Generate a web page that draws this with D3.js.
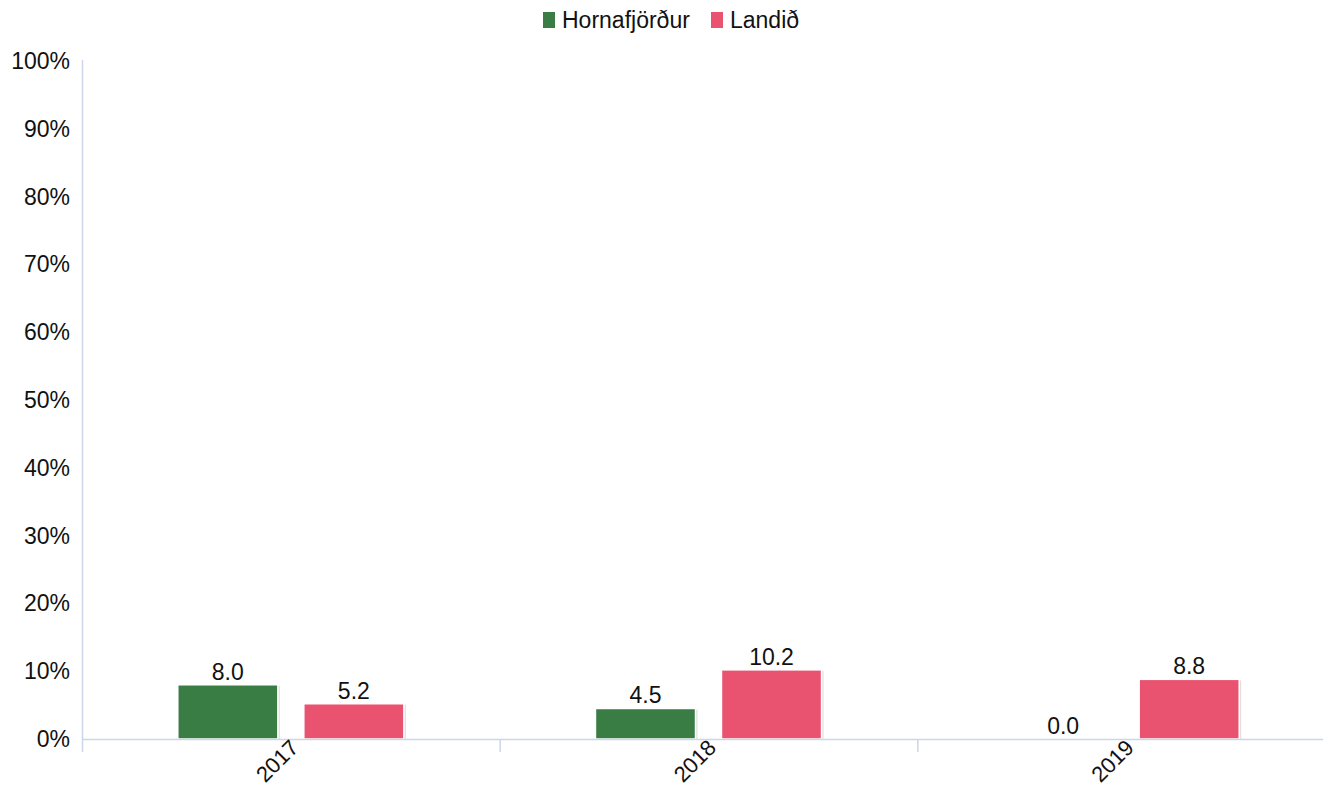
<!DOCTYPE html>
<html><head><meta charset="utf-8">
<script src="https://cdn.jsdelivr.net/npm/d3@7"></script>
<style>body{margin:0;background:#fff;}svg{display:block;font-family:"Liberation Sans",Arial,sans-serif;}</style>
</head><body><svg id="c" width="1323" height="786"></svg>
<script>
const categories = ["2017","2018","2019"];
const seriesNames = ["Hornafjörður","Landið"];
const hornafjordur = [8.0, 4.5, 0.0];
const landid = [5.2, 10.2, 8.8];
const yTicks = [0,10,20,30,40,50,60,70,80,90,100];
const colors = ["#3a7d44","#e95370"];

(function(){
const svg = d3.select("#c");
const fs = 23;
const mLeft = 82, mRight = 1335, mTop = 61, mBottom = 739;
const x = d3.scaleBand().domain(categories).range([mLeft, mRight]);
const x1 = d3.scaleBand().domain(seriesNames).range([0, x.bandwidth()]).paddingInner(0.206).paddingOuter(0.76);
const y = d3.scaleLinear().domain([0,100]).range([mBottom, mTop]);
const axisColor = "#ccd6eb";

svg.append("g").selectAll("text").data(yTicks).join("text")
  .attr("x", 70).attr("y", d => y(d)).attr("dy", "0.35em")
  .attr("text-anchor","end").attr("font-size", fs).attr("fill","#111")
  .text(d => d + "%");
svg.append("line").attr("x1", mLeft+0.5).attr("x2", mLeft+0.5).attr("y1", mTop-1).attr("y2", mBottom+13)
  .attr("stroke", axisColor).attr("stroke-width", 1.5);

const data = categories.map((c,i) => ({c, vals:[hornafjordur[i], landid[i]]}));
const g = svg.append("g");
data.forEach(d => {
  d.vals.forEach((v,j) => {
    const bx = x(d.c) + x1(seriesNames[j]);
    const bw = x1.bandwidth();
    if (v > 0) {
      g.append("rect").attr("x", bx+2).attr("y", y(v)+1).attr("width", bw).attr("height", y(0)-y(v)-1)
        .attr("fill", "rgba(0,0,0,0.12)");
      g.append("rect").attr("x", bx).attr("y", y(v)).attr("width", bw).attr("height", y(0)-y(v))
        .attr("fill", colors[j]).attr("stroke","#fff").attr("stroke-width",1.5);
    }
    g.append("text").attr("x", bx + bw/2).attr("y", y(v) - 5)
      .attr("text-anchor","middle").attr("font-size",fs).attr("fill","#111")
      .text(v.toFixed(1));
  });
});

svg.append("line").attr("x1", mLeft).attr("x2", 1323).attr("y1", mBottom+0.5).attr("y2", mBottom+0.5)
  .attr("stroke", axisColor).attr("stroke-width", 1.5);
svg.append("g").selectAll("line").data(categories.slice(1)).join("line")
  .attr("x1", d => x(d)+0.5).attr("x2", d => x(d)+0.5).attr("y1", mBottom).attr("y2", mBottom+13)
  .attr("stroke", axisColor).attr("stroke-width", 1.5);
svg.append("g").selectAll("text").data(categories).join("text")
  .attr("transform", d => `translate(${x(d)+x.bandwidth()/2+9},${mBottom+10}) rotate(-45)`)
  .attr("text-anchor","end").attr("font-size",22).attr("fill","#111")
  .text(d => d);

const leg = svg.append("g");
const legItems = [{n:seriesNames[0], x:543, c:colors[0]},{n:seriesNames[1], x:711, c:colors[1]}];
legItems.forEach(it => {
  leg.append("rect").attr("x", it.x).attr("y", 12).attr("width", 12).attr("height", 16).attr("fill", it.c);
  leg.append("text").attr("x", it.x+19).attr("y", 20).attr("dy","0.35em").attr("font-size",fs).attr("fill","#111").text(it.n);
});
})();
</script></body></html>
